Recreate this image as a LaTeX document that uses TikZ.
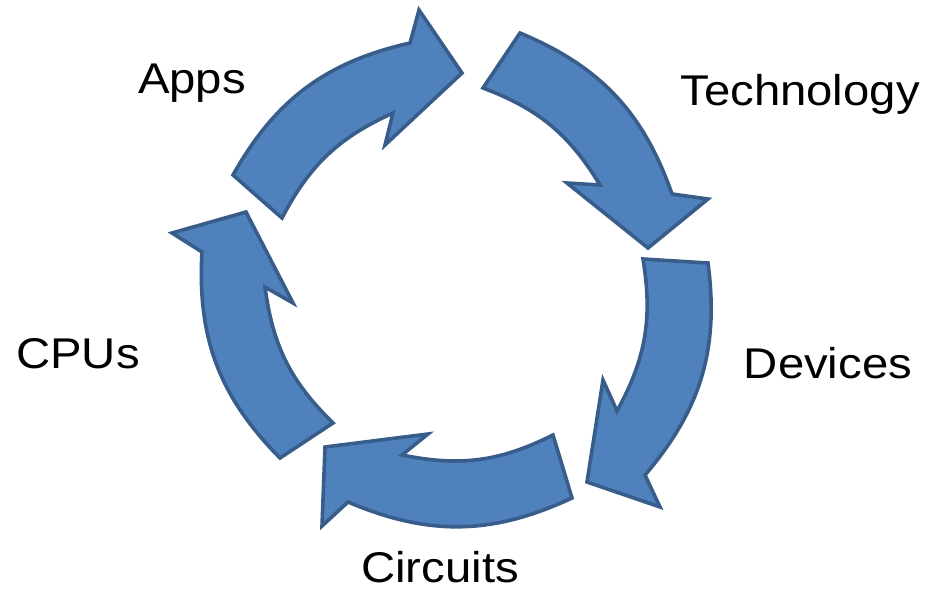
\documentclass[tikz,border=0pt]{standalone}
\usepackage{fontspec}
\setmainfont{Liberation Sans}
\usetikzlibrary{positioning}
\definecolor{cycfill}{HTML}{4F81BD}
\definecolor{cycline}{HTML}{385D8A}
\newcommand{\widetext}[1]{\scalebox{1.1}[1]{#1}}

\begin{document}
\begin{tikzpicture}[x=1pt, y=-1pt,
			cyc/.style = {draw=cycline, fill=cycfill, line width=3.6pt},
			lbl/.style = {font=\fontsize{43}{50}\selectfont, anchor=base, inner sep=0pt}]
			
			\useasboundingbox (0,0) rectangle (926,595);
			
			% five curved block arrows, running clockwise
			% tail outer / tail inner / inner junction / inner barb / tip / outer barb / outer junction
			\foreach \pa/\pb/\pc/\pd/\pe/\pf/\pg in {
				{520,33}/{483,88}/{600,185}/{567,183}/{648,248}/{708,199}/{672,194},
				{708,263}/{643,259}/{617,411}/{603,380}/{587,482}/{660,507}/{645,475},
				{572,498}/{553,435}/{402,455}/{428,434}/{325,447}/{322,526}/{348,502},
				{280,458}/{333,423}/{265,287}/{293,303}/{246,212}/{172,233}/{202,252},
				{233,175}/{282,218}/{393,113}/{385,145}/{462,73}/{419,10}/{410,43}}
			\draw[cyc] (\pa) to[bend left=24] (\pg) -- (\pf) -- (\pe) -- (\pd) -- (\pc) to[bend right=19] (\pb) -- cycle;
			
			% labels round the cycle
			\node[lbl] (apps) at (192,93) {\widetext{Apps}};
			\node[lbl] (tech) at (800,105) {\widetext{Technology}};
			\node[lbl] (dev)  at (828,378) {\widetext{Devices}};
			\node[lbl] (circ) at (440,582) {\widetext{Circuits}};
			\node[lbl] (cpus) at (78,368) {\widetext{CPUs}};
		\end{tikzpicture}
\end{document}
